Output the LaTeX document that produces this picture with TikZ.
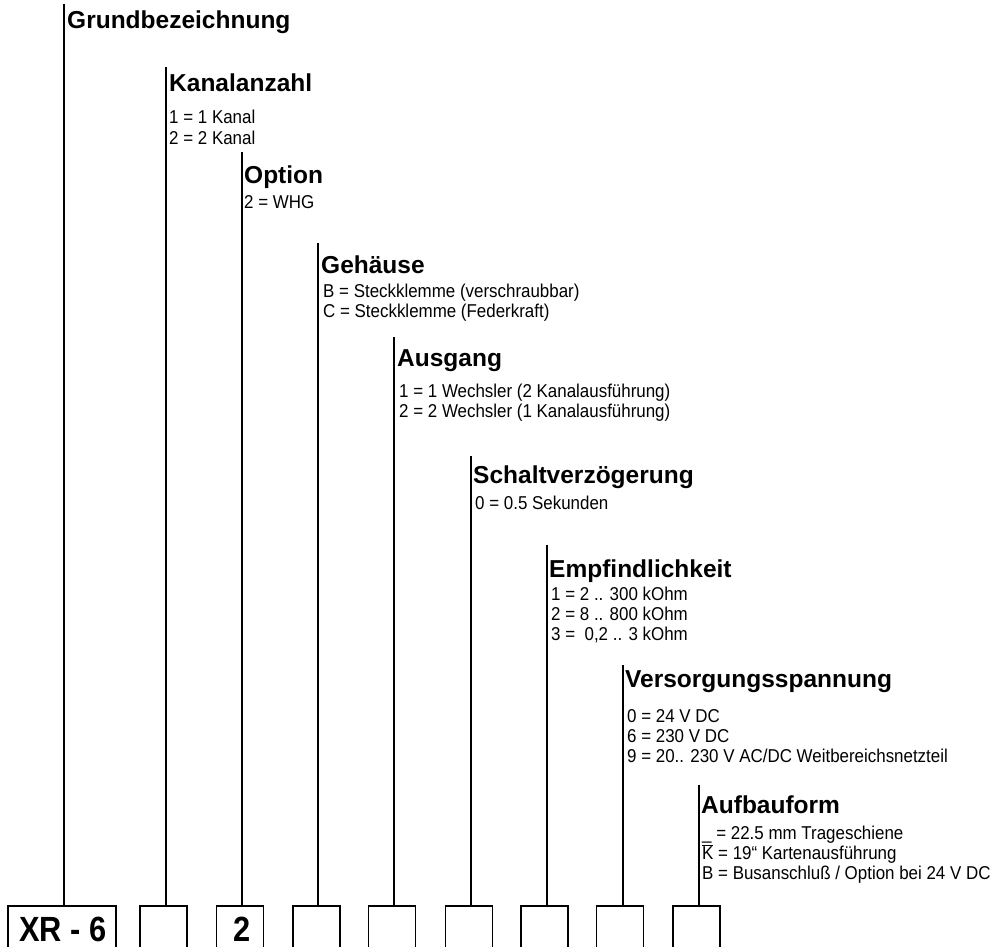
\documentclass[tikz,border=0pt]{standalone}
\usepackage{fontspec}
\setmainfont{Liberation Sans}
\newfontfamily\itemfont[FakeStretch=0.91]{Liberation Sans}
\newfontfamily\boxfont[FakeStretch=0.88]{Liberation Sans}
\begin{document}
\begin{tikzpicture}[x=1pt,y=-1pt,
  title/.style={font=\fontsize{24.5}{28}\selectfont\bfseries, anchor=base west, inner sep=0pt},
  item/.style={font=\itemfont\fontsize{18.6}{20}\selectfont, anchor=base west, inner sep=0pt},
  bignum/.style={font=\boxfont\fontsize{35}{38}\selectfont\bfseries, anchor=base, inner sep=0pt},
  codebox/.style={draw, line width=1.5pt, minimum height=50pt, inner sep=0pt},
  small/.style={codebox, minimum width=47pt},
  stem/.style={line width=1.3pt}]
\useasboundingbox (0,0) rectangle (998,947);

% boxes
\node[codebox, minimum width=108pt] (b1) at (62,931) {};
\node[small] (b2) at (163.5,931) {};
\node[small] (b3) at (240,931) {};
\node[small] (b4) at (316.5,931) {};
\node[small] (b5) at (392,931) {};
\node[small] (b6) at (469,931) {};
\node[small] (b7) at (544.5,931) {};
\node[small] (b8) at (620,931) {};
\node[small] (b9) at (696.5,931) {};
\node[bignum] (t1) at (63,941) {XR - 6};
\node[bignum] (t3) at (242,941) {2};

% stems
\coordinate (s1) at (64,4);
\coordinate (s2) at (166,67);
\coordinate (s3) at (242,152);
\coordinate (s4) at (318,243);
\coordinate (s5) at (394,337);
\coordinate (s6) at (471,456);
\coordinate (s7) at (547,545);
\coordinate (s8) at (623,665);
\coordinate (s9) at (699,785);
\foreach \i in {1,...,9} {\draw[stem] (s\i) -- (s\i |- b\i.north);}

% labels
\node[title] (n1) at (67,29) {Grundbezeichnung};

\node[title] (n2) at (169,92) {Kanalanzahl};
\node[item] (n2a) at (169,124) {1 = 1 Kanal};
\node[item] (n2b) at (169,144) {2 = 2 Kanal};

\node[title] (n3) at (244,183) {Option};
\node[item] (n3a) at (244,208) {2 = WHG};

\node[title] (n4) at (321,273) {Gehäuse};
\node[item] (n4a) at (323,297) {B = Steckklemme (verschraubbar)};
\node[item] (n4b) at (323,317) {C = Steckklemme (Federkraft)};

\node[title] (n5) at (397,366) {Ausgang};
\node[item] (n5a) at (399,397) {1 = 1 Wechsler (2 Kanalausführung)};
\node[item] (n5b) at (399,417) {2 = 2 Wechsler (1 Kanalausführung)};

\node[title] (n6) at (473,483) {Schaltverzögerung};
\node[item] (n6a) at (475,509) {0 = 0.5 Sekunden};

\node[title] (n7) at (549,577) {Empfindlichkeit};
\node[item] (n7a) at (551,600) {1 = 2 .. 300 kOhm};
\node[item] (n7b) at (551,620) {2 = 8 .. 800 kOhm};
\node[item] (n7c) at (551,640) {3 = \ 0,2 .. 3 kOhm};

\node[title] (n8) at (625,687) {Versorgungsspannung};
\node[item] (n8a) at (627,722) {0 = 24 V DC};
\node[item] (n8b) at (627,742) {6 = 230 V DC};
\node[item] (n8c) at (627,762) {9 = 20.. 230 V AC/DC Weitbereichsnetzteil};

\node[title] (n9) at (701,813) {Aufbauform};
\node[item] (n9a) at (702,839) {\_ = 22.5 mm Trageschiene};
\node[item] (n9b) at (702,859) {$\overline{\hbox{K}}$ = 19“ Kartenausführung};
\node[item] (n9c) at (702,879) {B = Busanschluß / Option bei 24 V DC};
\end{tikzpicture}
\end{document}
